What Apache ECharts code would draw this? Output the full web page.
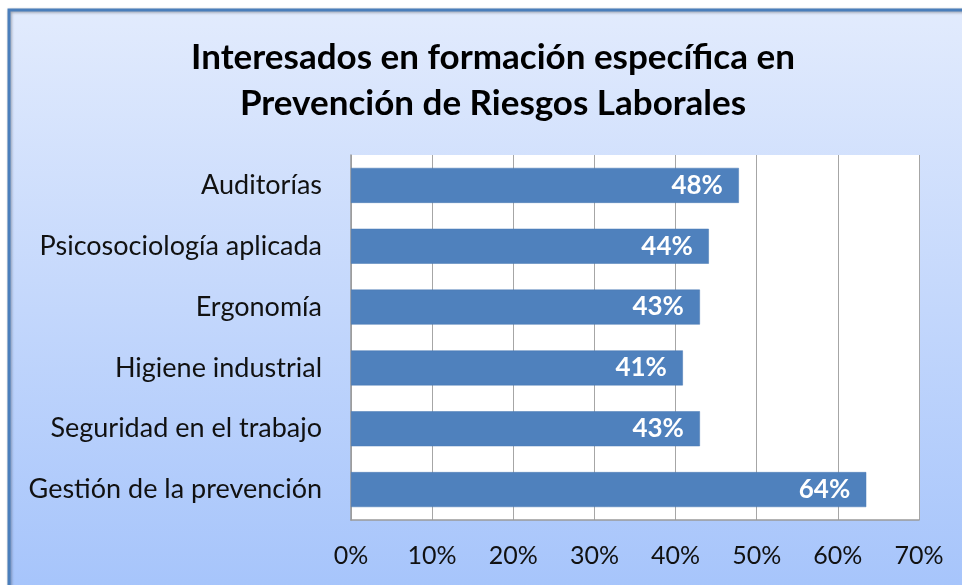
<!DOCTYPE html>
<html>
<head>
<meta charset="utf-8">
<script src="https://cdn.jsdelivr.net/npm/echarts@6/dist/echarts.min.js"></script>
<style>
  html, body { margin: 0; padding: 0; background: #fff; }
  #chart { width: 962px; height: 585px; }
</style>
</head>
<body>
<div id="chart"></div>
<script>
var categories = ['Auditorías', 'Psicosociología aplicada', 'Ergonomía',
  'Higiene industrial', 'Seguridad en el trabajo', 'Gestión de la prevención'];
var percentValues = [47.8, 44.1, 43.0, 40.9, 43.0, 63.5];
var tickValues = [0, 10, 20, 30, 40, 50, 60, 70];

var font = 'Lato';

var option = {
  backgroundColor: '#ffffff',
  animation: false,
  graphic: [{
    type: 'rect',
    z: -10,
    shape: { x: 9, y: 10, width: 980, height: 600 },
    style: {
      fill: new echarts.graphic.LinearGradient(0, 0, 0, 1, [
        { offset: 0, color: '#e2ebfd' },
        { offset: 1, color: '#a4c3fb' }
      ]),
      stroke: '#4a7ebb',
      lineWidth: 3,
      shadowBlur: 3,
      shadowColor: 'rgba(0,0,0,0.35)',
      shadowOffsetX: 1,
      shadowOffsetY: 1
    }
  }],
  title: {
    text: 'Interesados en formación específica en\nPrevención de Riesgos Laborales',
    left: 488,
    top: 30,
    textAlign: 'center',
    textStyle: {
      fontFamily: font,
      fontWeight: 'bold',
      fontSize: 35,
      lineHeight: 46,
      color: '#000'
    }
  },
  grid: {
    left: 351,
    right: 43,
    top: 155,
    bottom: 65,
    show: true,
    backgroundColor: '#ffffff',
    borderWidth: 0
  },
  xAxis: {
    type: 'value',
    min: 0,
    max: 70,
    interval: 10,
    axisLine: { show: true, lineStyle: { color: '#9a9a9a', width: 1.5 } },
    axisTick: { show: false },
    splitLine: { show: true, lineStyle: { color: '#a6a6a6', width: 1 } },
    axisLabel: {
      margin: 23,
      fontFamily: font,
      fontSize: 25,
      color: '#111',
      formatter: function (v) { return tickValues.indexOf(v) >= 0 ? v + '%' : ''; }
    }
  },
  yAxis: {
    type: 'category',
    inverse: true,
    data: categories,
    axisLine: { show: true, lineStyle: { color: '#9a9a9a', width: 1.5 } },
    axisTick: { show: false },
    axisLabel: {
      margin: 29,
      fontFamily: font,
      fontSize: 27,
      color: '#111'
    }
  },
  series: [{
    type: 'bar',
    data: percentValues,
    barWidth: 35,
    itemStyle: { color: '#4f81bd', borderColor: '#4a7ab5', borderWidth: 0.5 },
    label: {
      show: true,
      position: 'insideRight',
      distance: 16,
      fontFamily: font,
      fontWeight: 'bold',
      fontSize: 26,
      color: '#ffffff',
      formatter: function (p) { return Math.round(p.value) + '%'; }
    }
  }]
};

var chart = echarts.init(document.getElementById('chart'));
chart.setOption(option);
</script>
</body>
</html>
